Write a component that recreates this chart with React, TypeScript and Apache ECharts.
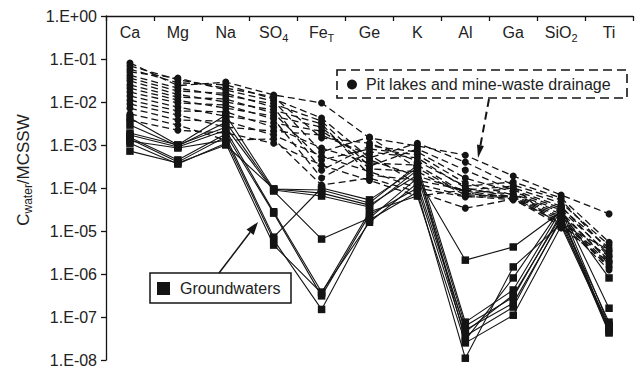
import React, { useEffect, useRef } from "react";
import * as echarts from "echarts";

// Categories (element/species), top axis
const categories = ["Ca", "Mg", "Na", "SO4", "FeT", "Ge", "K", "Al", "Ga", "SiO2", "Ti"];
const categorySub: Record<string, [string, string]> = {
  SO4: ["SO", "4"],
  FeT: ["Fe", "T"],
  SiO2: ["SiO", "2"],
};

// Pit lakes and mine-waste drainage (Cwater/MCSSW), order = categories
const pitLakes: number[][] = [
  [8.1e-2, 2.4e-2, 2.9e-2, 1.46e-2, 9.5e-3, 1.46e-3, 9.5e-4, 5.8e-4, 1.9e-4, 6.9e-5, 2.5e-5],
  [6.9e-2, 3.3e-2, 2.1e-2, 1.31e-2, 1.46e-3, 1.1e-3, 4.2e-4, 1.1e-4, 1.38e-4, 5.9e-5, 5.5e-6],
  [5.8e-2, 2.8e-2, 2.5e-2, 1.17e-2, 4.25e-3, 5.0e-4, 1.1e-3, 4.0e-4, 1.17e-4, 5.3e-5, 3.4e-6],
  [5.0e-2, 3.6e-2, 1.9e-2, 1.05e-2, 6.9e-4, 1.53e-3, 2.9e-4, 7.2e-5, 1.0e-4, 4.5e-5, 4.7e-6],
  [4.2e-2, 2.1e-2, 1.4e-2, 9.0e-3, 3.6e-3, 3.2e-4, 8.1e-4, 2.6e-4, 8.9e-5, 3.8e-5, 2.5e-6],
  [3.6e-2, 1.8e-2, 1.6e-2, 7.6e-3, 2.6e-4, 9.5e-4, 6.9e-4, 1.7e-4, 8.1e-5, 3.4e-5, 4.0e-6],
  [3.1e-2, 1.5e-2, 1.0e-2, 6.5e-3, 3.1e-3, 2.0e-4, 1.5e-4, 9.0e-5, 7.2e-5, 3.1e-5, 2.9e-6],
  [2.5e-2, 1.3e-2, 1.17e-2, 5.5e-3, 4.5e-4, 8.1e-4, 5.9e-4, 1.3e-4, 6.9e-5, 2.8e-5, 1.9e-6],
  [2.1e-2, 1.1e-2, 7.2e-3, 4.7e-3, 2.6e-3, 2.8e-4, 2.4e-4, 6.9e-5, 6.5e-5, 2.5e-5, 2.1e-6],
  [1.7e-2, 9.5e-3, 8.5e-3, 4.0e-3, 1.7e-4, 6.9e-4, 5.0e-4, 1.0e-4, 6.2e-5, 2.2e-5, 1.7e-6],
  [1.38e-2, 7.6e-3, 4.7e-3, 3.25e-3, 2.1e-3, 4.5e-4, 1.9e-4, 8.5e-5, 5.9e-5, 2.0e-5, 1.5e-6],
  [1.1e-2, 6.2e-3, 5.9e-3, 2.6e-3, 8.5e-4, 3.8e-4, 3.4e-4, 7.6e-5, 5.5e-5, 1.8e-5, 1.4e-6],
  [9.0e-3, 5.0e-3, 2.6e-3, 2.1e-3, 1.7e-3, 5.9e-4, 1.24e-4, 6.5e-5, 5.3e-5, 1.6e-5, 1.24e-6],
  [7.2e-3, 3.8e-3, 3.6e-3, 1.7e-3, 5.5e-4, 2.4e-4, 1.0e-4, 6.2e-5, 6.2e-5, 1.46e-5, 3.6e-6],
  [5.3e-3, 2.9e-3, 1.3e-3, 1.38e-3, 1.17e-4, 1.7e-4, 8.1e-5, 3.4e-5, 5.5e-5, 1.3e-5, 2.6e-6],
  [3.8e-3, 2.2e-3, 1.9e-3, 1.1e-3, 3.4e-4, 1.5e-4, 6.5e-5, 9.0e-5, 1.1e-4, 1.17e-5, 1.9e-6],
];

// Groundwaters (Cwater/MCSSW), order = categories
const groundwaters: number[][] = [
  [4.25e-3, 1.0e-3, 5.0e-3, 9.5e-5, 9.0e-5, 4.5e-5, 3.4e-4, 7.6e-8, 4.25e-7, 3.1e-5, 6.5e-8],
  [2.9e-3, 9.5e-4, 3.4e-3, 9.0e-5, 6.5e-5, 3.6e-5, 2.6e-4, 6.2e-8, 2.9e-7, 2.5e-5, 5.0e-8],
  [1.9e-3, 1.0e-3, 2.6e-3, 8.5e-5, 6.5e-6, 2.0e-5, 1.7e-4, 2.1e-6, 4.25e-6, 2.8e-5, 8.1e-7],
  [1.7e-3, 9.0e-4, 2.2e-3, 2.8e-5, 3.8e-7, 1.6e-5, 1.3e-4, 5.0e-8, 2.1e-7, 1.8e-5, 4.25e-8],
  [1.5e-3, 4.5e-4, 1.8e-3, 2.6e-5, 3.1e-7, 2.4e-5, 1.0e-4, 3.6e-8, 1.7e-7, 2.0e-5, 7.6e-8],
  [1.38e-3, 4.0e-4, 1.55e-3, 7.2e-6, 1.0e-4, 5.3e-5, 2.9e-4, 2.9e-8, 8.1e-7, 3.4e-5, 1.6e-7],
  [1.24e-3, 8.5e-4, 1.3e-3, 6.2e-6, 1.5e-7, 1.8e-5, 8.1e-5, 1.1e-8, 1.46e-6, 1.46e-5, 6.2e-8],
  [1.1e-3, 3.6e-4, 1.1e-3, 4.7e-6, 3.6e-7, 2.8e-5, 6.5e-5, 2.5e-8, 1.1e-7, 1.3e-5, 5.3e-8],
  [7.2e-4, 3.8e-4, 1.0e-3, 9.5e-5, 7.6e-5, 4.0e-5, 2.0e-4, 4.5e-8, 3.25e-7, 2.2e-5, 4.5e-8],
];

const yAxisTitle = ["C", "water", "/MCSSW"];
const pitLegend = "Pit lakes and mine-waste drainage";
const gwLegend = "Groundwaters";

const INK = "#141414";
const FONT = "'Liberation Sans', Arial, sans-serif";

function arrowHead(tx: number, ty: number, fx: number, fy: number, len: number, half: number) {
  const dx = tx - fx, dy = ty - fy;
  const l = Math.sqrt(dx * dx + dy * dy);
  const ux = dx / l, uy = dy / l;
  const bx = tx - ux * len, by = ty - uy * len;
  const nx = -uy, ny = ux;
  return {
    base: [bx, by],
    points: [[tx, ty], [bx + nx * half, by + ny * half], [bx - nx * half, by - ny * half]],
  };
}

export default function App() {
  const ref = useRef<HTMLDivElement>(null);

  useEffect(() => {
    document.body.style.margin = "0";
    if (!ref.current) return;
    const chart = echarts.init(ref.current, undefined, { renderer: "svg" });

    const series: any[] = [];
    pitLakes.forEach((row, i) => {
      series.push({
        type: "line",
        name: "pit" + i,
        data: row,
        symbol: "circle",
        symbolSize: 7,
        lineStyle: { color: INK, width: 1.3, type: [7, 4] },
        itemStyle: { color: INK },
        z: 2,
      });
    });
    groundwaters.forEach((row, i) => {
      series.push({
        type: "line",
        name: "gw" + i,
        data: row,
        symbol: "rect",
        symbolSize: 7.5,
        lineStyle: { color: INK, width: 1.1, type: "solid" },
        itemStyle: { color: INK },
        z: 3,
      });
    });

    const a1 = arrowHead(478, 158, 489, 101, 13, 3.5);
    const a2 = arrowHead(258, 222, 219, 273, 13, 4.5);

    chart.setOption({
      animation: false,
      backgroundColor: "#ffffff",
      grid: { left: 106, right: 7, top: 16, bottom: 12, containLabel: false },
      xAxis: {
        type: "category",
        data: categories,
        position: "top",
        boundaryGap: true,
        axisLine: { show: true, lineStyle: { color: INK, width: 1.3 } },
        axisTick: { show: true, inside: true, length: 5, alignWithLabel: false, lineStyle: { color: INK, width: 1.3 } },
        axisLabel: {
          inside: true,
          margin: 5,
          interval: 0,
          formatter: (v: string) => {
            const s = categorySub[v];
            return s ? `{n|${s[0]}}{s|${s[1]}}` : `{n|${v}}`;
          },
          rich: {
            n: { fontSize: 16, fontFamily: FONT, color: "#222", lineHeight: 22 },
            s: { fontSize: 11, fontFamily: FONT, color: "#222", verticalAlign: "bottom", lineHeight: 14 },
          },
        },
        splitLine: { show: false },
      },
      yAxis: {
        type: "log",
        logBase: 10,
        min: 1e-8,
        max: 1,
        splitNumber: 8,
        axisLine: { show: true, lineStyle: { color: INK, width: 1.3 } },
        axisTick: { show: true, length: 5, lineStyle: { color: INK, width: 1.3 } },
        minorTick: { show: false },
        splitLine: { show: false },
        axisLabel: {
          fontSize: 16,
          fontFamily: FONT,
          color: "#222",
          margin: 9,
          formatter: (v: number) => {
            const e = Math.round(Math.log10(v));
            return "1.E" + (e >= 0 ? "+" : "-") + String(Math.abs(e)).padStart(2, "0");
          },
        },
      },
      series,
      graphic: [
        {
          type: "text",
          x: 23,
          y: 170,
          rotation: Math.PI / 2,
          style: {
            text: `{c|${yAxisTitle[0]}}{w|${yAxisTitle[1]}}{c|${yAxisTitle[2]}}`,
            align: "center",
            verticalAlign: "middle",
            rich: {
              c: { fontSize: 17, fontFamily: FONT, fill: "#222", lineHeight: 22 },
              w: { fontSize: 12, fontFamily: FONT, fill: "#222", verticalAlign: "bottom", lineHeight: 15 },
            },
          },
          z: 10,
        },
        // Pit lakes legend box
        {
          type: "rect",
          shape: { x: 337, y: 70, width: 290, height: 28 },
          style: { fill: "#fff", stroke: INK, lineWidth: 1.6, lineDash: [9, 5] },
          z: 10,
        },
        {
          type: "circle",
          shape: { cx: 352, cy: 84.5, r: 5 },
          style: { fill: INK },
          z: 11,
        },
        {
          type: "text",
          x: 366,
          y: 84.5,
          style: { text: pitLegend, fontSize: 16, fontFamily: FONT, fill: "#222", verticalAlign: "middle", align: "left" },
          z: 11,
        },
        {
          type: "line",
          shape: { x1: 489, y1: 99, x2: a1.base[0], y2: a1.base[1] },
          style: { stroke: INK, lineWidth: 2, lineDash: [8, 5] },
          z: 10,
        },
        {
          type: "polygon",
          shape: { points: a1.points },
          style: { fill: INK },
          z: 10,
        },
        // Groundwaters legend box
        {
          type: "rect",
          shape: { x: 150, y: 273, width: 141, height: 30 },
          style: { fill: "#fff", stroke: INK, lineWidth: 1.5 },
          z: 10,
        },
        {
          type: "rect",
          shape: { x: 157, y: 282, width: 13, height: 13 },
          style: { fill: INK },
          z: 11,
        },
        {
          type: "text",
          x: 180,
          y: 288.5,
          style: { text: gwLegend, fontSize: 16, fontFamily: FONT, fill: "#222", verticalAlign: "middle", align: "left" },
          z: 11,
        },
        {
          type: "line",
          shape: { x1: 219, y1: 273, x2: a2.base[0], y2: a2.base[1] },
          style: { stroke: INK, lineWidth: 1.5 },
          z: 10,
        },
        {
          type: "polygon",
          shape: { points: a2.points },
          style: { fill: INK },
          z: 10,
        },
      ],
    });

    return () => chart.dispose();
  }, []);

  return (
    <div
      ref={ref}
      style={{ width: 640, height: 372, position: "fixed", left: 0, top: 0, background: "#fff" }}
    />
  );
}
